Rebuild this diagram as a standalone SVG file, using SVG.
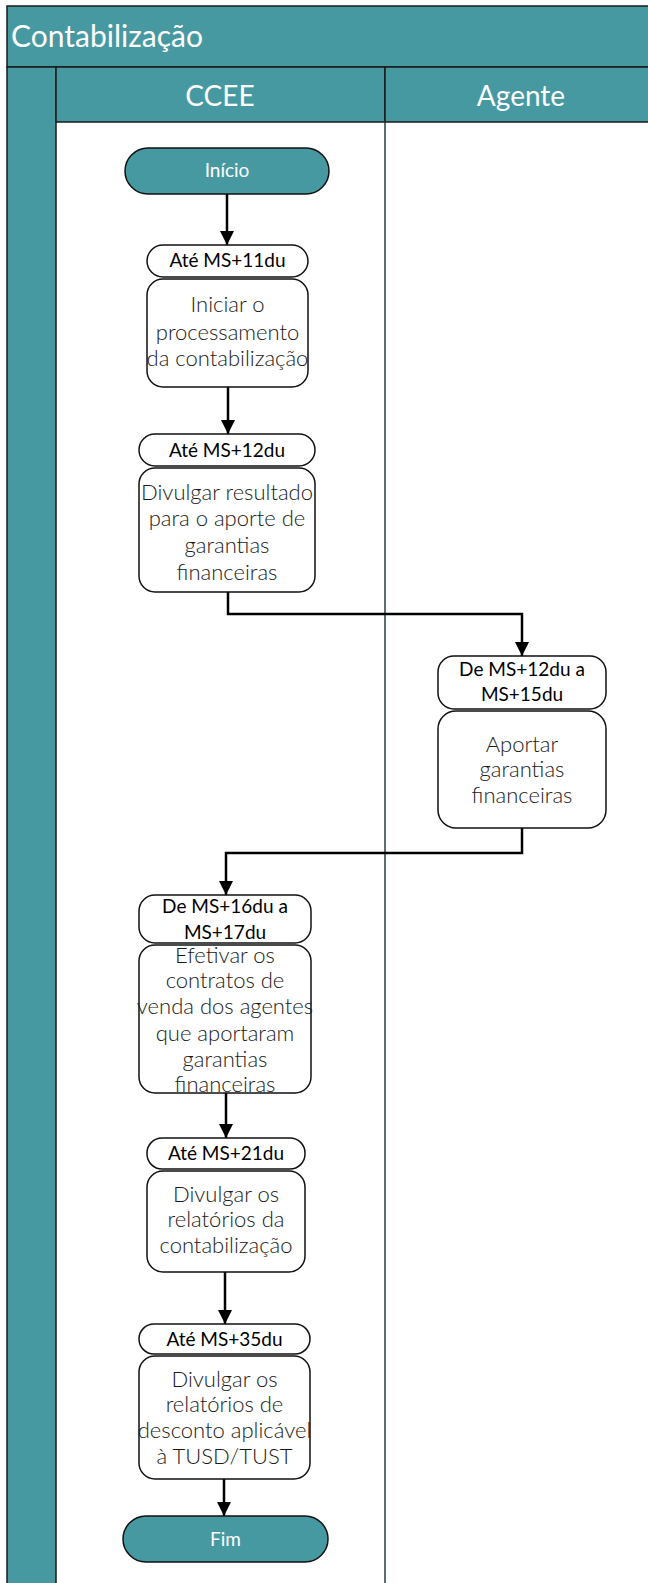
<svg xmlns="http://www.w3.org/2000/svg" width="648" height="1583" viewBox="0 0 648 1583">
<style>
.band{fill:#4799A1;stroke:#1a1a1a;stroke-width:1.5}
.div{stroke:#263e40;stroke-width:1.5;fill:none}
.term{fill:#4799A1;stroke:#111;stroke-width:1.5}
.hdr{fill:#fff;stroke:#111;stroke-width:1.5}
.box{fill:#fff;stroke:#111;stroke-width:1.5}
.ttl{font-family:Lato,"Open Sans",sans-serif;fill:#fff;font-size:30px}
.lane{font-family:Lato,"Open Sans",sans-serif;fill:#fff;font-size:28px;text-anchor:middle}
.tt{font-family:Lato,"Open Sans",sans-serif;fill:#fff;font-size:19px;text-anchor:middle}
.ht{font-family:Lato,"Open Sans",sans-serif;fill:#000;font-size:19px;text-anchor:middle}
.bt{font-family:Lato,"Open Sans",sans-serif;fill:#1a1a1a;font-size:22px;font-weight:300;text-anchor:middle}
.con{stroke:#000;stroke-width:2.5;fill:none}
</style>
<defs>
<marker id="ah" markerUnits="userSpaceOnUse" markerWidth="14" markerHeight="14" refX="14" refY="7" orient="auto" viewBox="0 0 14 14">
<path d="M0,0 L14,7 L0,14 Z" fill="#000"/>
</marker>
</defs>
<g id="pool">
<rect x="0" y="0" width="648" height="1583" fill="#fff"/>
<rect class="band" x="7" y="6" width="660" height="61"/>
<rect class="band" x="7" y="67" width="49" height="1530"/>
<rect class="band" x="56" y="67" width="329" height="55"/>
<rect class="band" x="385" y="67" width="280" height="55"/>
<line class="div" x1="385" y1="122" x2="385" y2="1583"/>
<text class="ttl" x="11" y="47">Contabilização</text>
<text class="lane" x="220" y="106">CCEE</text>
<text class="lane" x="521" y="106">Agente</text>
</g>
<g id="connectors">
<line class="con" x1="227" y1="194" x2="227" y2="245" marker-end="url(#ah)"/>
<line class="con" x1="228" y1="387" x2="228" y2="434" marker-end="url(#ah)"/>
<polyline class="con" points="228,592 228,614 522,614 522,656" marker-end="url(#ah)"/>
<polyline class="con" points="522,828 522,853 226,853 226,895" marker-end="url(#ah)"/>
<line class="con" x1="226" y1="1093" x2="226" y2="1138" marker-end="url(#ah)"/>
<line class="con" x1="225" y1="1272" x2="225" y2="1324" marker-end="url(#ah)"/>
<line class="con" x1="224" y1="1479" x2="224" y2="1516" marker-end="url(#ah)"/>
</g>
<g id="inicio">
<rect class="term" x="125" y="148" width="204" height="46" rx="23"/>
<text class="tt" x="227" y="177">Início</text>
</g>
<g id="n1">
<rect class="hdr" x="147" y="245" width="161" height="32" rx="16"/>
<text class="ht" x="227.5" y="267">Até MS+11du</text>
<rect class="box" x="147" y="279" width="161" height="108" rx="16"/>
<text class="bt" x="227.5" y="312">Iniciar o</text>
<text class="bt" x="227.5" y="340">processamento</text>
<text class="bt" x="227.5" y="366">da contabilização</text>
</g>
<g id="n2">
<rect class="hdr" x="139" y="434" width="176" height="32" rx="16"/>
<text class="ht" x="227" y="457">Até MS+12du</text>
<rect class="box" x="139" y="468" width="176" height="124" rx="16"/>
<text class="bt" x="227" y="500">Divulgar resultado</text>
<text class="bt" x="227" y="526">para o aporte de</text>
<text class="bt" x="227" y="553">garantias</text>
<text class="bt" x="227" y="580">financeiras</text>
</g>
<g id="n3">
<rect class="hdr" x="438" y="656" width="168" height="53" rx="16"/>
<text class="ht" x="522" y="676">De MS+12du a</text>
<text class="ht" x="522" y="701">MS+15du</text>
<rect class="box" x="438" y="711" width="168" height="117" rx="18"/>
<text class="bt" x="522" y="752">Aportar</text>
<text class="bt" x="522" y="777">garantias</text>
<text class="bt" x="522" y="803">financeiras</text>
</g>
<g id="n4">
<rect class="hdr" x="139" y="895" width="172" height="48" rx="16"/>
<text class="ht" x="225" y="913">De MS+16du a</text>
<text class="ht" x="225" y="939">MS+17du</text>
<rect class="box" x="139" y="945" width="172" height="148" rx="16"/>
<text class="bt" x="225" y="963">Efetivar os</text>
<text class="bt" x="225" y="988">contratos de</text>
<text class="bt" x="225" y="1014">venda dos agentes</text>
<text class="bt" x="225" y="1041">que aportaram</text>
<text class="bt" x="225" y="1067">garantias</text>
<text class="bt" x="225" y="1092">financeiras</text>
</g>
<g id="n5">
<rect class="hdr" x="147" y="1138" width="158" height="31" rx="15"/>
<text class="ht" x="226" y="1160">Até MS+21du</text>
<rect class="box" x="147" y="1171" width="158" height="101" rx="16"/>
<text class="bt" x="226" y="1202">Divulgar os</text>
<text class="bt" x="226" y="1227">relatórios da</text>
<text class="bt" x="226" y="1253">contabilização</text>
</g>
<g id="n6">
<rect class="hdr" x="139" y="1324" width="171" height="30" rx="15"/>
<text class="ht" x="224.5" y="1346">Até MS+35du</text>
<rect class="box" x="139" y="1356" width="171" height="123" rx="16"/>
<text class="bt" x="224.5" y="1387">Divulgar os</text>
<text class="bt" x="224.5" y="1412">relatórios de</text>
<text class="bt" x="224.5" y="1438">desconto aplicável</text>
<text class="bt" x="224.5" y="1464">à TUSD/TUST</text>
</g>
<g id="fim">
<rect class="term" x="123" y="1516" width="205" height="46" rx="23"/>
<text class="tt" x="225.5" y="1546">Fim</text>
</g>
</svg>
